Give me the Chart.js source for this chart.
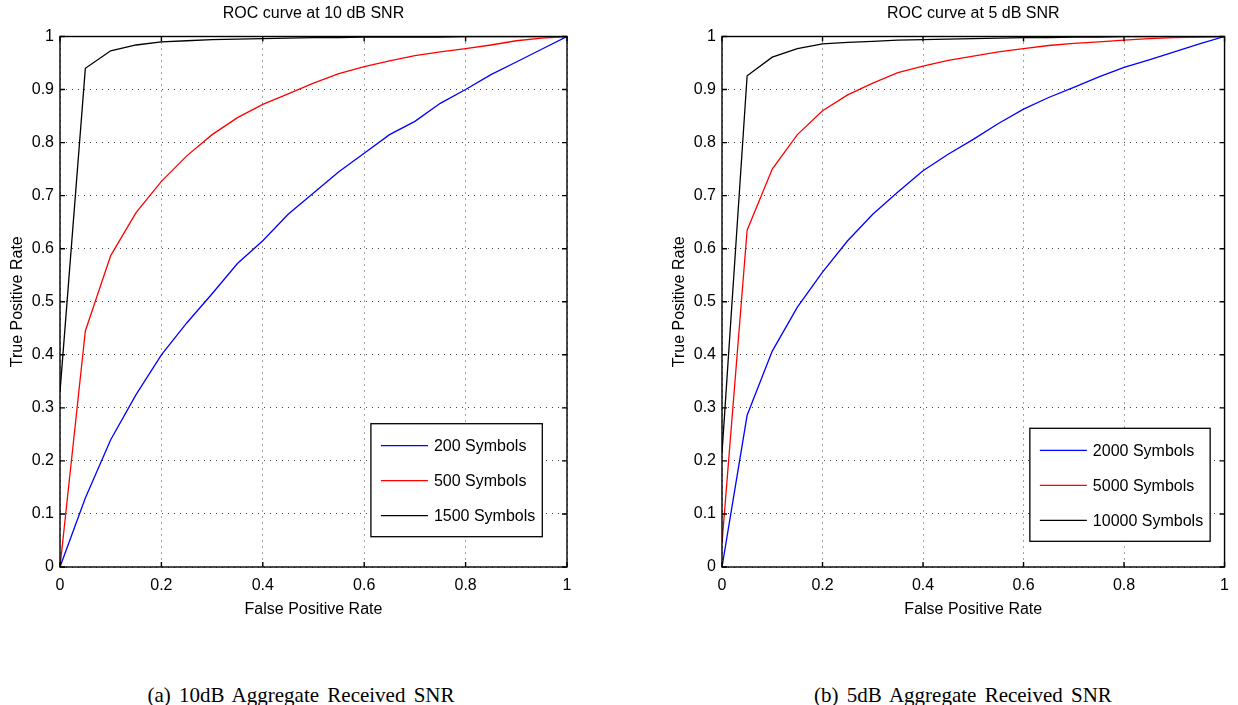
<!DOCTYPE html>
<html>
<head>
<meta charset="utf-8">
<title>ROC curves</title>
<script src="https://cdn.jsdelivr.net/npm/chart.js@4.4.0/dist/chart.umd.min.js"></script>
<style>
  body { margin: 0; background: #fff; width: 1238px; height: 705px; position: relative; overflow: hidden; }
  canvas { position: absolute; top: 0; }
  .caption {
    position: absolute; top: 683px; width: 600px; line-height: 24px;
    text-align: center; font-family: "Liberation Serif", serif; font-size: 21px;
    word-spacing: 3px; color: #000;
  }
</style>
</head>
<body>
<canvas id="roc10" width="619" height="630" style="left:0"></canvas>
<canvas id="roc5" width="576" height="630" style="left:662px"></canvas>
<div class="caption" style="left:1px">(a) 10dB Aggregate Received SNR</div>
<div class="caption" style="left:663px">(b) 5dB Aggregate Received SNR</div>

<script>
// --- Dane ---
const fpr = [0, 0.05, 0.1, 0.15, 0.2, 0.25, 0.3, 0.35, 0.4, 0.45, 0.5,
             0.55, 0.6, 0.65, 0.7, 0.75, 0.8, 0.85, 0.9, 0.95, 1];

// 10 dB SNR
const tpr200  = [0, 0.13, 0.24, 0.325, 0.40, 0.46, 0.515, 0.572, 0.615, 0.665, 0.705,
                 0.745, 0.78, 0.815, 0.84, 0.874, 0.90, 0.928, 0.952, 0.976, 1];
const tpr500  = [0, 0.445, 0.587, 0.668, 0.727, 0.775, 0.815, 0.847, 0.872, 0.892, 0.912,
                 0.93, 0.943, 0.954, 0.964, 0.971, 0.977, 0.984, 0.992, 0.997, 1];
const tpr1500 = [0.33, 0.94, 0.973, 0.984, 0.99, 0.992, 0.994, 0.995, 0.996, 0.997, 0.998,
                 0.998, 0.999, 0.999, 0.999, 0.999, 1, 1, 1, 1, 1];

// 5 dB SNR
const tpr2000  = [0, 0.286, 0.407, 0.49, 0.556, 0.615, 0.665, 0.707, 0.747, 0.778, 0.806,
                  0.836, 0.863, 0.885, 0.904, 0.924, 0.942, 0.956, 0.971, 0.986, 1];
const tpr5000  = [0.045, 0.635, 0.75, 0.815, 0.86, 0.89, 0.912, 0.932, 0.944, 0.955, 0.963,
                  0.971, 0.977, 0.983, 0.987, 0.99, 0.993, 0.996, 0.998, 0.999, 1];
const tpr10000 = [0.215, 0.926, 0.961, 0.977, 0.986, 0.989, 0.991, 0.993, 0.994, 0.995, 0.996,
                  0.997, 0.998, 0.998, 0.999, 0.999, 1, 1, 1, 1, 1];

const xTicks = [0, 0.2, 0.4, 0.6, 0.8, 1];
const yTicks = [0, 0.1, 0.2, 0.3, 0.4, 0.5, 0.6, 0.7, 0.8, 0.9, 1];

Chart.defaults.font.family = '"Liberation Sans", Arial, sans-serif';
Chart.defaults.color = '#000';

// Ramka w stylu MATLAB-a, znaczniki do środka i legenda w prawym dolnym rogu
const matlabFrame = {
  id: 'matlabFrame',
  afterDatasetsDraw(chart, args, opts) {
    const { ctx, chartArea: a, scales: { x, y } } = chart;
    ctx.save();
    ctx.strokeStyle = '#000';
    ctx.lineWidth = 1.4;
    ctx.strokeRect(a.left, a.top, a.right - a.left, a.bottom - a.top);

    ctx.beginPath();
    xTicks.forEach(v => {
      const px = x.getPixelForValue(v);
      ctx.moveTo(px, a.bottom); ctx.lineTo(px, a.bottom - 5);
      ctx.moveTo(px, a.top); ctx.lineTo(px, a.top + 5);
    });
    yTicks.forEach(v => {
      const py = y.getPixelForValue(v);
      ctx.moveTo(a.left, py); ctx.lineTo(a.left + 5, py);
      ctx.moveTo(a.right, py); ctx.lineTo(a.right - 5, py);
    });
    ctx.stroke();

    // legenda
    const sets = chart.data.datasets;
    ctx.font = '16px "Liberation Sans", Arial, sans-serif';
    const textW = Math.max(...sets.map(d => ctx.measureText(d.label).width));
    const w = 10 + 47 + 6 + textW + 7;
    const h = 113;
    const bx = a.right - opts.right - w;
    const by = a.bottom - opts.bottom - h;
    ctx.fillStyle = '#fff';
    ctx.fillRect(bx, by, w, h);
    ctx.lineWidth = 1.3;
    ctx.strokeStyle = '#000';
    ctx.strokeRect(bx, by, w, h);
    ctx.textBaseline = 'middle';
    ctx.textAlign = 'left';
    sets.forEach((d, i) => {
      const ry = by + 22 + i * 35;
      ctx.beginPath();
      ctx.strokeStyle = d.borderColor;
      ctx.lineWidth = 1.3;
      ctx.moveTo(bx + 10, ry); ctx.lineTo(bx + 57, ry);
      ctx.stroke();
      ctx.fillStyle = '#000';
      ctx.fillText(d.label, bx + 63, ry + 1);
    });
    ctx.restore();
  }
};

function toPoints(values) {
  return fpr.map((x, i) => ({ x: x, y: values[i] }));
}

function fmt(v) {
  return String(Math.round(v * 10) / 10);
}

function makeRoc(id, title, series, labels, rightPad, legendPos) {
  const colors = ['#0000ff', '#ff0000', '#000000'];
  return new Chart(document.getElementById(id), {
    type: 'line',
    data: {
      datasets: series.map((s, i) => ({
        label: labels[i],
        data: toPoints(s),
        borderColor: colors[i],
        borderWidth: 1.3,
        pointRadius: 0,
        tension: 0,
        fill: false
      }))
    },
    options: {
      responsive: false,
      animation: false,
      layout: { padding: { left: 0, right: rightPad, top: 0, bottom: 0 } },
      plugins: {
        legend: { display: false },
        title: { display: false },
        tooltip: { enabled: false },
        matlabFrame: legendPos
      },
      scales: {
        x: {
          type: 'linear', position: 'bottom', min: 0, max: 1,
          afterFit: s => { s.height = 63; },
          afterBuildTicks: s => { s.ticks = xTicks.map(v => ({ value: v })); },
          grid: { color: '#444', lineWidth: 1, drawTicks: false },
          border: { display: false, dash: [1, 5] },
          ticks: { padding: 9, font: { size: 16 }, callback: fmt, maxRotation: 0 },
          title: { display: true, text: 'False Positive Rate', font: { size: 16 }, padding: { bottom: 11 } }
        },
        top: {
          type: 'linear', position: 'top', min: 0, max: 1,
          afterFit: s => { s.height = 36.5; },
          grid: { display: false, drawTicks: false },
          border: { display: false },
          ticks: { display: false },
          title: { display: true, text: title, font: { size: 16 }, padding: { top: 4 } }
        },
        y: {
          type: 'linear', position: 'left', min: 0, max: 1,
          afterFit: s => { s.width = 60; },
          afterBuildTicks: s => { s.ticks = yTicks.map(v => ({ value: v })); },
          grid: { color: '#444', lineWidth: 1, drawTicks: false },
          border: { display: false, dash: [1, 5] },
          ticks: { padding: 6, font: { size: 16 }, callback: fmt },
          title: { display: true, text: 'True Positive Rate', font: { size: 16 }, padding: { top: 8 } }
        }
      }
    },
    plugins: [matlabFrame]
  });
}

makeRoc('roc10', 'ROC curve at 10 dB SNR', [tpr200, tpr500, tpr1500],
        ['200 Symbols', '500 Symbols', '1500 Symbols'], 52, { right: 24.7, bottom: 30.3 });
makeRoc('roc5', 'ROC curve at 5 dB SNR', [tpr2000, tpr5000, tpr10000],
        ['2000 Symbols', '5000 Symbols', '10000 Symbols'], 9.3, { right: 14.4, bottom: 25.7 });
</script>
</body>
</html>
